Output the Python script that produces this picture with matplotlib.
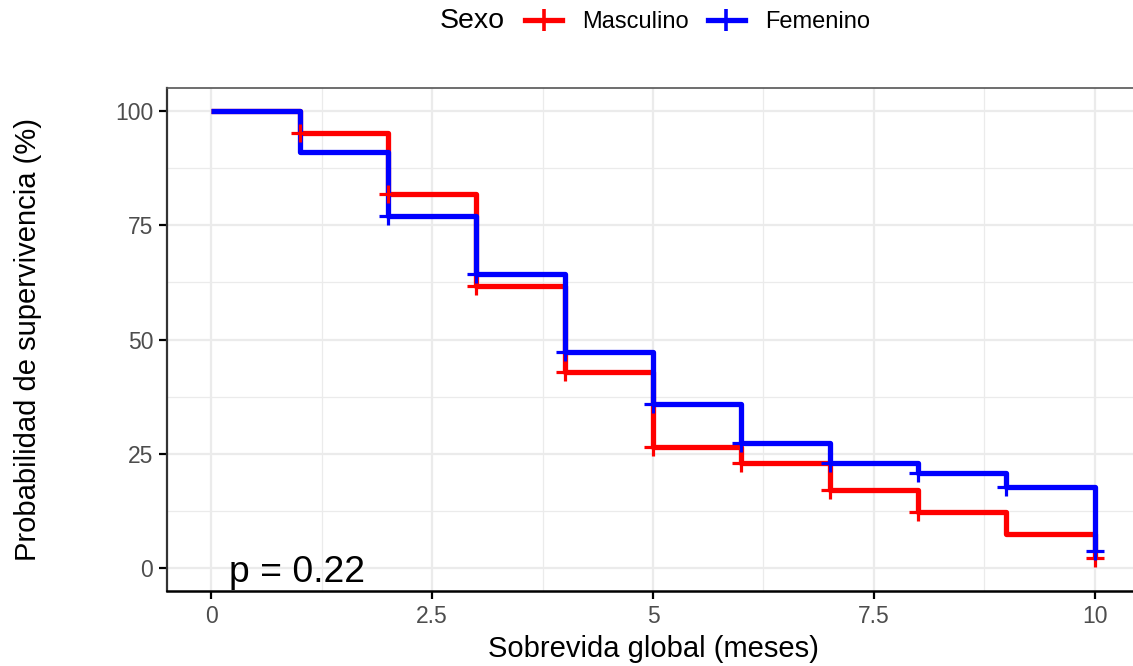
import matplotlib
matplotlib.use("Agg")
import matplotlib.pyplot as plt
from matplotlib.lines import Line2D
import numpy as np

plt.rcParams['font.family'] = ['Liberation Sans', 'DejaVu Sans']

times = [0, 1, 2, 3, 4, 5, 6, 7, 8, 9, 10]
surv_masc = [100, 95.2, 81.9, 61.7, 42.9, 26.5, 23.0, 17.0, 12.2, 7.4, 2.2]
surv_fem = [100, 91.0, 76.9, 64.3, 47.3, 35.8, 27.4, 23.0, 20.7, 17.8, 3.8]
cens_masc = [1, 2, 3, 4, 5, 6, 7, 8, 10]
cens_fem = [2, 3, 4, 5, 6, 7, 8, 9, 10]
group_labels = ["Masculino", "Femenino"]
colors = ["#FF0000", "#0000FF"]
x_ticks = [0, 2.5, 5, 7.5, 10]
x_tick_labels = ["0", "2.5", "5", "7.5", "10"]
y_ticks = [0, 25, 50, 75, 100]
p_text = "p = 0.22"

W, H = 1133, 666
fig = plt.figure(figsize=(W/100, H/100), dpi=100)
ax = fig.add_axes([167/W, 1-591/H, 972/W, (591-88)/H])

for s, c, cens in [(surv_masc, colors[0], cens_masc), (surv_fem, colors[1], cens_fem)]:
    ax.step(times, s, where='post', color=c, lw=3.8, solid_capstyle='butt', zorder=3)
    cy = [s[times.index(t)] for t in cens]
    ax.plot(cens, cy, ls='none', marker='+', ms=13, mew=2.3, color=c, zorder=4)

ax.set_xlim(-0.5, 10.5)
ax.set_ylim(-5, 105)
ax.set_xticks(x_ticks)
ax.set_xticklabels(x_tick_labels)
ax.set_yticks(y_ticks)
ax.set_xticks([1.25, 3.75, 6.25, 8.75], minor=True)
ax.set_yticks([12.5, 37.5, 62.5, 87.5], minor=True)
ax.grid(which='major', color='#EBEBEB', lw=1.6, zorder=0)
ax.grid(which='minor', color='#EBEBEB', lw=0.9, zorder=0)
ax.set_axisbelow(True)
ax.tick_params(which='minor', length=0)
ax.tick_params(which='major', length=6, width=1.6, color='black',
               labelsize=16.5, labelcolor='#4D4D4D', pad=4)

ax.spines['top'].set_color('#555555')
ax.spines['top'].set_linewidth(1.2)
ax.spines['right'].set_visible(False)
ax.spines['left'].set_color('#333333')
ax.spines['left'].set_linewidth(1.6)
ax.spines['bottom'].set_color('black')
ax.spines['bottom'].set_linewidth(1.8)

ax.set_xlabel("Sobrevida global (meses)", fontsize=21, labelpad=5)
ax.set_ylabel("Probabilidad de supervivencia (%)", fontsize=21, labelpad=0)
ax.yaxis.set_label_coords(-(167-42)/972, 0.5)

ax.text(0.2, -3.0, p_text, fontsize=26.8, va='baseline', ha='left', color='black')

handles = [Line2D([0], [0], color=c, lw=3.8, marker='+', ms=16, mew=2.6) for c in colors]
fig.text(440/W, 1-21/H, "Sexo", fontsize=20.5, va='center', ha='left')
fig.legend(handles, group_labels, loc='center left', bbox_to_anchor=(525/W, 1-22/H),
           ncol=2, frameon=False, fontsize=17, handlelength=1.57, handletextpad=0.85,
           columnspacing=0.8, borderaxespad=0, borderpad=0)

fig.savefig("out.png", dpi=100)
